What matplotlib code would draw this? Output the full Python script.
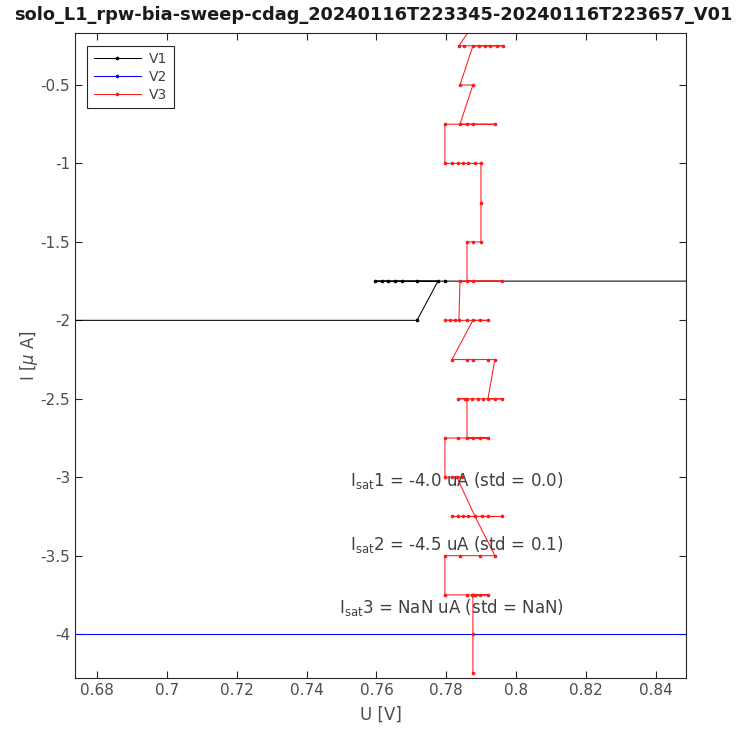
import matplotlib
matplotlib.use("Agg")
from matplotlib import pyplot as plt

# V1 probe: sweep seen at two current levels
v1_u = [0.600, 0.7716, 0.7776, 0.7596, 0.7616, 0.7633, 0.7653, 0.7673, 0.7716, 0.7796, 0.900]
v1_i = [-2.0, -2.0, -1.75, -1.75, -1.75, -1.75, -1.75, -1.75, -1.75, -1.75, -1.75]

# V2 probe: flat at -4 uA
v2_u = [0.600, 0.900]
v2_i = [-4.0, -4.0]

# V3 probe: current levels and the voltages sampled at each level (in sweep order)
v3_levels = [0.0, -0.25, -0.5, -0.75, -1.0, -1.25, -1.5, -1.75, -2.0, -2.25,
             -2.5, -2.75, -3.0, -3.25, -3.5, -3.75, -4.0, -4.25]
v3_sweeps = [
    [0.7913],
    [0.7836, 0.7850, 0.7893, 0.7910, 0.7925, 0.7945, 0.7962, 0.7876],
    [0.7839, 0.7876],
    [0.7839, 0.7859, 0.7876, 0.7939, 0.7796],
    [0.7796, 0.7816, 0.7833, 0.7848, 0.7862, 0.7882, 0.7899],
    [0.7899],
    [0.7899, 0.7876, 0.7859],
    [0.7859, 0.7876, 0.7959, 0.7839],
    [0.7836, 0.7796, 0.7810, 0.7825, 0.7859, 0.7896, 0.7919, 0.7876],
    [0.7816, 0.7859, 0.7876, 0.7919, 0.7939],
    [0.7919, 0.7959, 0.7939, 0.7905, 0.7890, 0.7873, 0.7853, 0.7833, 0.7859],
    [0.7859, 0.7876, 0.7896, 0.7919, 0.7833, 0.7796],
    [0.7796, 0.7816, 0.7845, 0.7830],
    [0.7882, 0.7816, 0.7833, 0.7848, 0.7862, 0.7902, 0.7919, 0.7959, 0.7882],
    [0.7939, 0.7896, 0.7839, 0.7796],
    [0.7796, 0.7859, 0.7873, 0.7882, 0.7896, 0.7919, 0.7876],
    [0.7876],
    [0.7876],
]

isat_labels = [r"I$_{\mathrm{sat}}$1 = -4.0 uA (std = 0.0)",
               r"I$_{\mathrm{sat}}$2 = -4.5 uA (std = 0.1)",
               r"I$_{\mathrm{sat}}$3 = NaN uA (std = NaN)"]
isat_u = [0.7831, 0.7831, 0.7815]
isat_i = [-3.02, -3.43, -3.83]

v3_u = []
v3_i = []
for lev, us in zip(v3_levels, v3_sweeps):
    for u in us:
        v3_u.append(u)
        v3_i.append(lev)

plt.rcParams['font.family'] = ['DejaVu Sans']
fig = plt.figure(figsize=(7.46, 7.32), dpi=100)
ax = fig.add_axes([0.1005, 0.0738, 0.8191, 0.8811])

ax.plot(v1_u, v1_i, '.-', color='black', lw=0.75, ms=3.2, label='V1')
ax.plot(v2_u, v2_i, '.-', color='blue', lw=0.75, ms=3.2, label='V2')
ax.plot(v3_u, v3_i, '.-', color='#ff1a1a', lw=0.75, ms=3.2, label='V3')

for txt, u, i in zip(isat_labels, isat_u, isat_i):
    ax.text(u, i, txt, ha='center', va='center', fontsize=12, color='#404040')

ax.set_xlim(0.6737, 0.8486)
ax.set_ylim(-4.2795, -0.1686)
ax.set_xticks([0.68, 0.70, 0.72, 0.74, 0.76, 0.78, 0.80, 0.82, 0.84])
ax.set_xticklabels(['0.68', '0.7', '0.72', '0.74', '0.76', '0.78', '0.8', '0.82', '0.84'])
ax.set_yticks([-4, -3.5, -3, -2.5, -2, -1.5, -1, -0.5])
ax.set_yticklabels(['-4', '-3.5', '-3', '-2.5', '-2', '-1.5', '-1', '-0.5'])
ax.tick_params(direction='in', top=True, right=True, labelsize=11,
               colors='#262626', labelcolor='#4d4d4d', length=5, width=0.8)
for s in ax.spines.values():
    s.set_color('#262626')
    s.set_linewidth(0.8)

ax.set_xlabel('U [V]', fontsize=12, color='#4d4d4d', labelpad=6)
ax.set_ylabel(r'I [$\mu$ A]', fontsize=12, color='#4d4d4d', labelpad=0)
fig.text(0.5, 0.979, 'solo_L1_rpw-bia-sweep-cdag_20240116T223345-20240116T223657_V01',
         ha='center', va='center', fontsize=12.8, fontweight='bold', color='#1a1a1a')

leg = ax.legend(loc='upper left', fontsize=10, numpoints=1, handlelength=3.4,
                fancybox=False, framealpha=1, borderaxespad=0.9,
                labelspacing=0.3, borderpad=0.45, handletextpad=0.6)
leg.get_frame().set_edgecolor('#262626')
leg.get_frame().set_linewidth(0.8)
for t in leg.get_texts():
    t.set_color('#404040')

fig.savefig('out.png', dpi=100)
